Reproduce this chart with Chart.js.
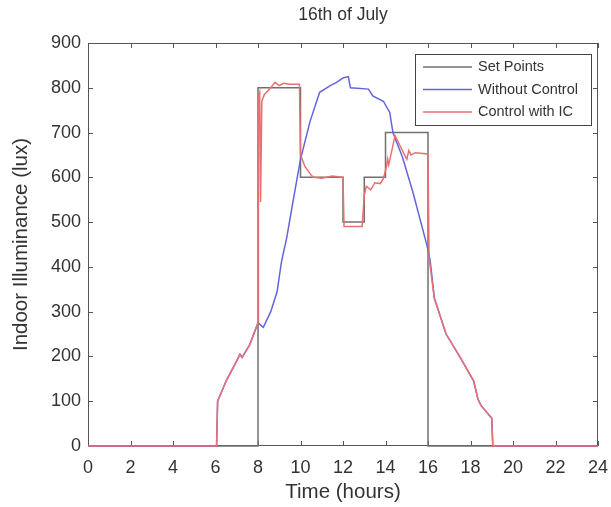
<!DOCTYPE html>
<html>
<head>
<meta charset="utf-8">
<script src="https://cdn.jsdelivr.net/npm/chart.js@4.4.0/dist/chart.umd.min.js"></script>
<style>
  html, body { margin: 0; padding: 0; background: #fff; }
  #wrap { width: 611px; height: 507px; }
</style>
</head>
<body>
<div id="wrap"><canvas id="chart"></canvas></div>
<script>
// values (hours, lux)
const setHours = [0, 8, 8, 10, 10, 12, 12, 13, 13, 14, 14, 16, 16, 24];
const setLux   = [0, 0, 800, 800, 600, 600, 500, 500, 600, 600, 700, 700, 0, 0];

const noCtrlHours = [0, 6.05, 6.1, 6.5, 7.0, 7.15, 7.25, 7.6, 8.0, 8.25, 8.6, 8.9, 9.1, 9.35, 9.7, 10.0,
  10.45, 10.9, 11.4, 11.7, 12.0, 12.25, 12.35, 13.2, 13.4, 13.9, 14.2, 14.35, 14.8, 15.3, 15.95, 16.1,
  16.3, 16.85, 17.55, 18.15, 18.35, 18.5, 19.0, 19.05, 24];
const noCtrlLux = [0, 0, 100, 145, 190, 205, 198, 225, 275, 265, 300, 345, 410, 465, 560, 640,
  725, 790, 805, 812, 822, 825, 800, 797, 782, 770, 745, 700, 645, 565, 448, 415,
  330, 250, 195, 145, 105, 90, 62, 0, 0];

const icHours = [0, 6.05, 6.1, 6.5, 7.0, 7.15, 7.25, 7.6, 8.0, 8.02, 8.08, 8.12, 8.18, 8.3, 8.6, 8.8,
  9.0, 9.2, 9.5, 9.95, 10.0, 10.2, 10.5, 10.6, 11.0, 11.5, 12.0, 12.05, 12.9, 13.0, 13.1, 13.3, 13.5,
  13.75, 13.9, 14.05, 14.1, 14.15, 14.45, 15.0, 15.1, 15.2, 15.4, 16.0, 16.05, 16.3, 16.85, 17.55,
  18.15, 18.35, 18.5, 19.0, 19.05, 24];
const icLux = [0, 0, 100, 145, 190, 205, 198, 225, 275, 780, 790, 545, 770, 785, 800, 812,
  805, 810, 808, 808, 650, 625, 605, 600, 598, 603, 600, 490, 490, 560, 580, 572, 588,
  586, 597, 625, 641, 628, 693, 640, 660, 650, 655, 652, 420, 330, 250, 195,
  145, 105, 90, 62, 0, 0];

const xTicks = [0, 2, 4, 6, 8, 10, 12, 14, 16, 18, 20, 22, 24];
const yTicks = [0, 100, 200, 300, 400, 500, 600, 700, 800, 900];

const toPts = (xs, ys) => xs.map((h, i) => ({ x: h, y: ys[i] }));

const FONT = 'Liberation Sans, Arial, Helvetica, sans-serif';
const INK = '#333';

// MATLAB style box with inward ticks, title over the axes, legend in the corner
const frame = {
  id: 'frame',
  beforeDatasetsDraw(chart) {
    const { ctx, chartArea: a, scales: { x, y } } = chart;
    ctx.save();
    ctx.strokeStyle = '#555';
    ctx.lineWidth = 1;
    ctx.strokeRect(Math.round(a.left) + 0.5, Math.round(a.top) + 0.5,
      Math.round(a.width) - 1, Math.round(a.height) - 1);
    ctx.beginPath();
    xTicks.forEach(v => {
      const px = Math.round(x.getPixelForValue(v)) + 0.5;
      ctx.moveTo(px, a.bottom); ctx.lineTo(px, a.bottom - 5);
      ctx.moveTo(px, a.top); ctx.lineTo(px, a.top + 5);
    });
    yTicks.forEach(v => {
      const py = Math.round(y.getPixelForValue(v)) + 0.5;
      ctx.moveTo(a.left, py); ctx.lineTo(a.left + 5, py);
      ctx.moveTo(a.right, py); ctx.lineTo(a.right - 5, py);
    });
    ctx.stroke();

    ctx.fillStyle = INK;
    ctx.font = '17.5px ' + FONT;
    ctx.textAlign = 'center';
    ctx.textBaseline = 'middle';
    ctx.fillText('16th of July', (a.left + a.right) / 2, 15);
    ctx.restore();
  },
  afterDatasetsDraw(chart) {
    const { ctx } = chart;
    ctx.save();
    const lx = 415, ly = 54, lw = 176, lh = 71;
    ctx.fillStyle = '#fff';
    ctx.fillRect(lx, ly, lw, lh);
    ctx.strokeStyle = '#444';
    ctx.lineWidth = 1;
    ctx.strokeRect(lx + 0.5, ly + 0.5, lw, lh);
    ctx.font = '14.5px ' + FONT;
    ctx.textBaseline = 'middle';
    chart.data.datasets.forEach((ds, i) => {
      const ry = ly + 13 + i * 22.5;
      ctx.strokeStyle = ds.borderColor;
      ctx.lineWidth = 1.5;
      ctx.beginPath();
      ctx.moveTo(lx + 8, ry); ctx.lineTo(lx + 57, ry);
      ctx.stroke();
      ctx.fillStyle = INK;
      ctx.fillText(ds.label, lx + 63, ry);
    });
    ctx.restore();
  }
};

new Chart(document.getElementById('chart'), {
  type: 'line',
  data: {
    datasets: [
      { label: 'Set Points', data: toPts(setHours, setLux), borderColor: '#707070', order: 2 },
      { label: 'Without Control', data: toPts(noCtrlHours, noCtrlLux), borderColor: '#6464dc', order: 1 },
      { label: 'Control with IC', data: toPts(icHours, icLux), borderColor: '#e87070', order: 0 }
    ]
  },
  options: {
    responsive: true,
    maintainAspectRatio: false,
    animation: false,
    parsing: false,
    elements: {
      point: { radius: 0 },
      line: { borderWidth: 1.5, tension: 0 }
    },
    datasets: { line: { clip: 2 } },
    layout: { padding: { left: 0, right: 13, top: 43, bottom: 0 } },
    plugins: {
      legend: { display: false },
      tooltip: { enabled: false },
      title: { display: false }
    },
    scales: {
      x: {
        type: 'linear',
        min: 0,
        max: 24,
        afterFit: s => { s.height = 61; s.paddingLeft = 0; s.paddingRight = 0; },
        afterBuildTicks: s => { s.ticks = xTicks.map(v => ({ value: v })); },
        grid: { display: false, drawTicks: false },
        border: { display: false },
        ticks: { color: INK, padding: 11, maxRotation: 0, font: { family: FONT, size: 18 } },
        title: {
          display: true,
          text: 'Time (hours)',
          color: INK,
          padding: { top: 0, bottom: 2 },
          font: { family: FONT, size: 20.5 }
        }
      },
      y: {
        min: 0,
        max: 900,
        afterFit: s => { s.width = 88; s.paddingTop = 0; s.paddingBottom = 0; },
        afterBuildTicks: s => { s.ticks = yTicks.map(v => ({ value: v })); },
        grid: { display: false, drawTicks: false },
        border: { display: false },
        ticks: { color: INK, padding: 7, font: { family: FONT, size: 18 } },
        title: {
          display: true,
          text: 'Indoor Illuminance (lux)',
          color: INK,
          padding: { top: 9, bottom: 0 },
          font: { family: FONT, size: 20.5 }
        }
      }
    }
  },
  plugins: [frame]
});
</script>
</body>
</html>
